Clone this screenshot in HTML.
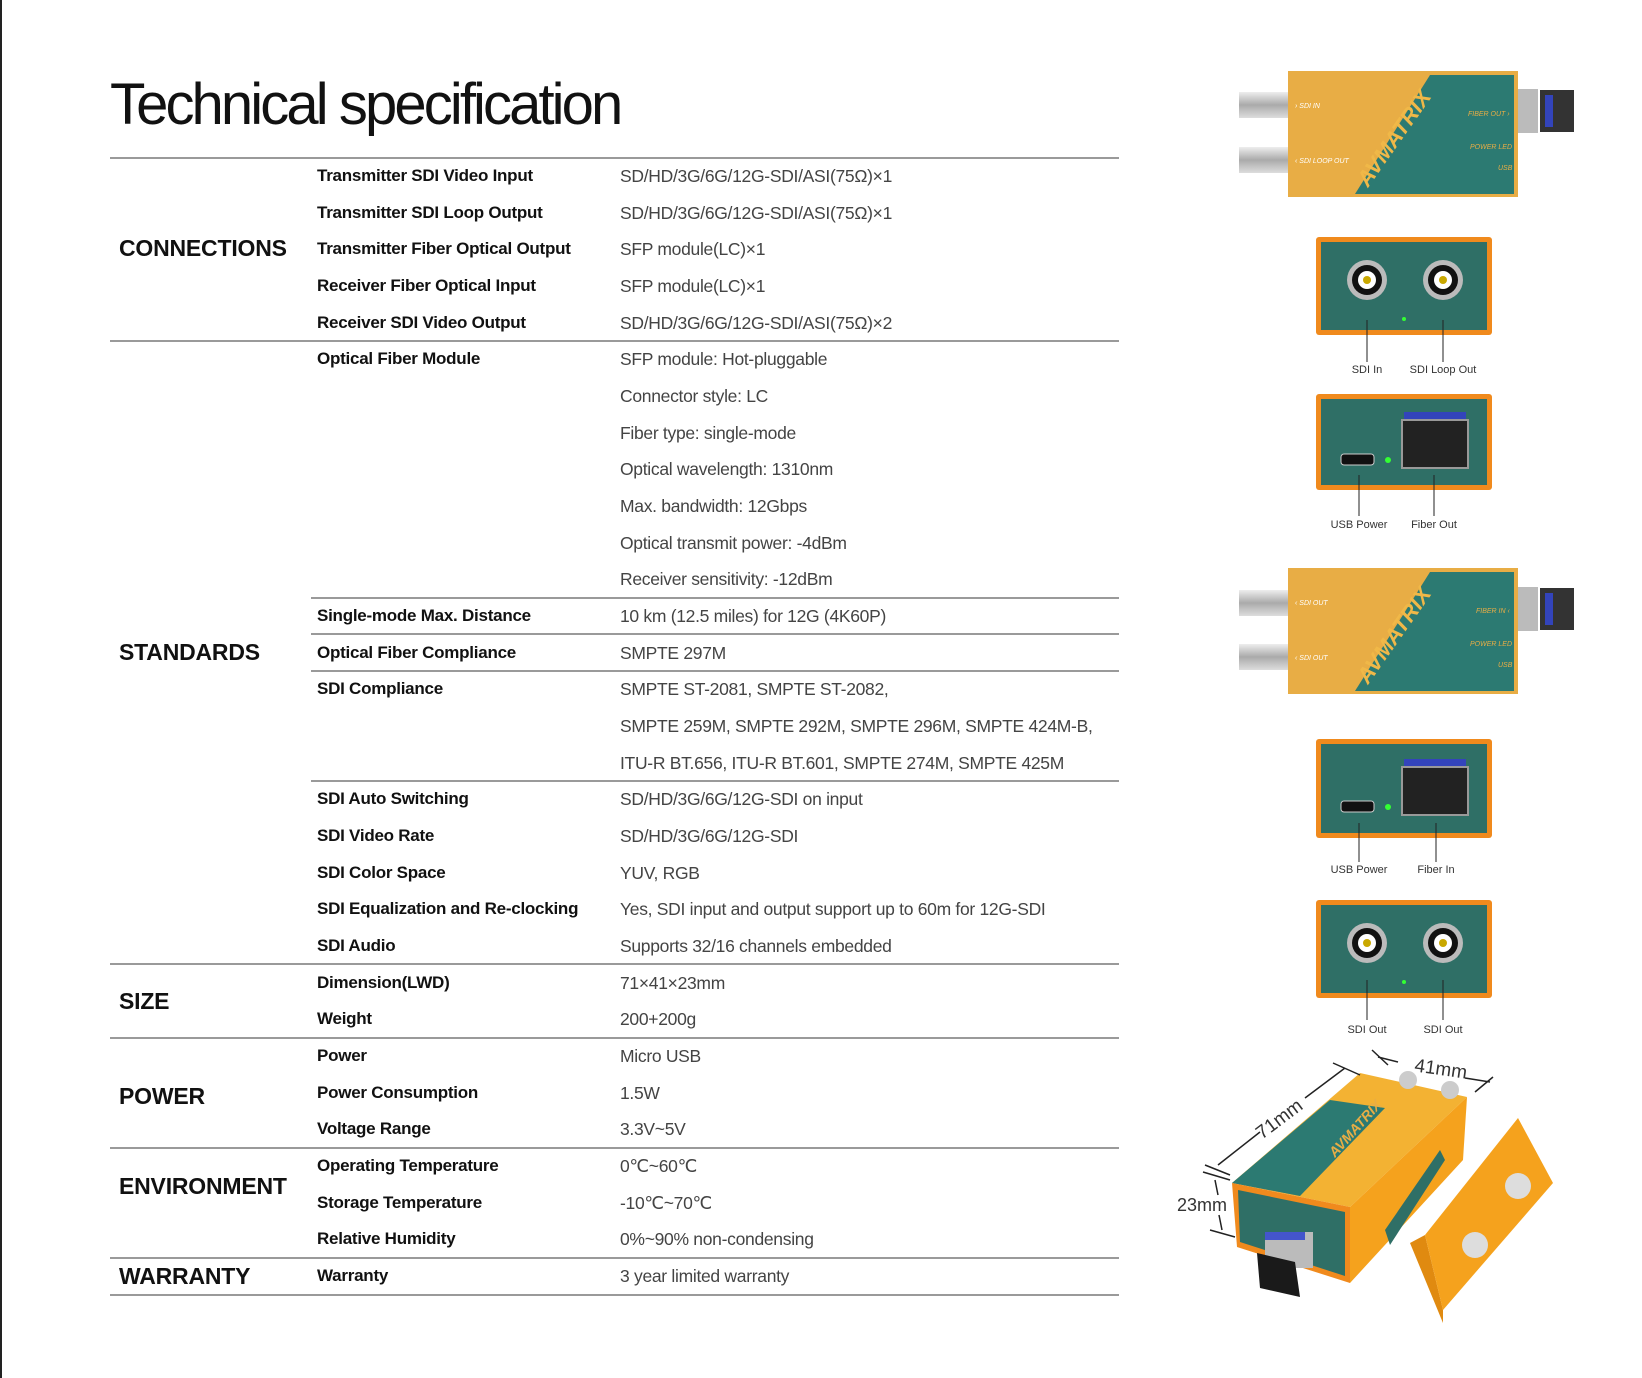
<!DOCTYPE html>
<html><head><meta charset="utf-8"><style>
html,body{margin:0;padding:0;background:#fff;}
body{width:1642px;height:1378px;position:relative;overflow:hidden;font-family:"Liberation Sans",Arial,sans-serif;}
.bl{position:absolute;left:0;top:0;width:2px;height:1378px;background:#222;}
.title{position:absolute;left:110px;top:70px;font-size:58px;font-weight:normal;color:#111;letter-spacing:-2.9px;white-space:nowrap;line-height:70px;}
.ln{position:absolute;height:2px;background:#9a9a9a;}
.p{position:absolute;left:317px;font-size:17px;font-weight:bold;color:#111;letter-spacing:-0.25px;line-height:36px;height:36px;white-space:nowrap;}
.v{position:absolute;left:620px;font-size:17.5px;color:#444;letter-spacing:-0.3px;line-height:36px;height:36px;white-space:nowrap;}
.s{position:absolute;left:119px;font-size:23px;font-weight:bold;color:#111;letter-spacing:-0.2px;line-height:30px;white-space:nowrap;}
svg{position:absolute;left:0;top:0;}
</style></head><body>
<div class="bl"></div>
<div class="title">Technical specification</div>

<div class="ln" style="left:110px;width:1009px;top:157px"></div>
<div class="ln" style="left:110px;width:1009px;top:340px"></div>
<div class="ln" style="left:311px;width:808px;top:597px"></div>
<div class="ln" style="left:311px;width:808px;top:633px"></div>
<div class="ln" style="left:311px;width:808px;top:670px"></div>
<div class="ln" style="left:311px;width:808px;top:780px"></div>
<div class="ln" style="left:110px;width:1009px;top:963px"></div>
<div class="ln" style="left:110px;width:1009px;top:1037px"></div>
<div class="ln" style="left:110px;width:1009px;top:1147px"></div>
<div class="ln" style="left:110px;width:1009px;top:1257px"></div>
<div class="ln" style="left:110px;width:1009px;top:1294px"></div>

<div class="s" style="top:233px">CONNECTIONS</div>
<div class="s" style="top:637px">STANDARDS</div>
<div class="s" style="top:986px">SIZE</div>
<div class="s" style="top:1081px">POWER</div>
<div class="s" style="top:1171px">ENVIRONMENT</div>
<div class="s" style="top:1261px">WARRANTY</div>

<div class="p" style="top:158px">Transmitter SDI Video Input</div><div class="v" style="top:158px">SD/HD/3G/6G/12G-SDI/ASI(75Ω)×1</div>
<div class="p" style="top:195px">Transmitter SDI Loop Output</div><div class="v" style="top:195px">SD/HD/3G/6G/12G-SDI/ASI(75Ω)×1</div>
<div class="p" style="top:231px">Transmitter Fiber Optical Output</div><div class="v" style="top:231px">SFP module(LC)×1</div>
<div class="p" style="top:268px">Receiver Fiber Optical Input</div><div class="v" style="top:268px">SFP module(LC)×1</div>
<div class="p" style="top:305px">Receiver SDI Video Output</div><div class="v" style="top:305px">SD/HD/3G/6G/12G-SDI/ASI(75Ω)×2</div>
<div class="p" style="top:341px">Optical Fiber Module</div><div class="v" style="top:341px">SFP module: Hot-pluggable</div>
<div class="v" style="top:378px">Connector style: LC</div>
<div class="v" style="top:415px">Fiber type: single-mode</div>
<div class="v" style="top:451px">Optical wavelength: 1310nm</div>
<div class="v" style="top:488px">Max. bandwidth: 12Gbps</div>
<div class="v" style="top:525px">Optical transmit power: -4dBm</div>
<div class="v" style="top:561px">Receiver sensitivity: -12dBm</div>
<div class="p" style="top:598px">Single-mode Max. Distance</div><div class="v" style="top:598px">10 km (12.5 miles) for 12G (4K60P)</div>
<div class="p" style="top:635px">Optical Fiber Compliance</div><div class="v" style="top:635px">SMPTE 297M</div>
<div class="p" style="top:671px">SDI Compliance</div><div class="v" style="top:671px">SMPTE ST-2081, SMPTE ST-2082,</div>
<div class="v" style="top:708px">SMPTE 259M, SMPTE 292M, SMPTE 296M, SMPTE 424M-B,</div>
<div class="v" style="top:745px">ITU-R BT.656, ITU-R BT.601, SMPTE 274M, SMPTE 425M</div>
<div class="p" style="top:781px">SDI Auto Switching</div><div class="v" style="top:781px">SD/HD/3G/6G/12G-SDI on input</div>
<div class="p" style="top:818px">SDI Video Rate</div><div class="v" style="top:818px">SD/HD/3G/6G/12G-SDI</div>
<div class="p" style="top:855px">SDI Color Space</div><div class="v" style="top:855px">YUV, RGB</div>
<div class="p" style="top:891px">SDI Equalization and Re-clocking</div><div class="v" style="top:891px">Yes, SDI input and output support up to 60m for 12G-SDI</div>
<div class="p" style="top:928px">SDI Audio</div><div class="v" style="top:928px">Supports 32/16 channels embedded</div>
<div class="p" style="top:965px">Dimension(LWD)</div><div class="v" style="top:965px">71×41×23mm</div>
<div class="p" style="top:1001px">Weight</div><div class="v" style="top:1001px">200+200g</div>
<div class="p" style="top:1038px">Power</div><div class="v" style="top:1038px">Micro USB</div>
<div class="p" style="top:1075px">Power Consumption</div><div class="v" style="top:1075px">1.5W</div>
<div class="p" style="top:1111px">Voltage Range</div><div class="v" style="top:1111px">3.3V~5V</div>
<div class="p" style="top:1148px">Operating Temperature</div><div class="v" style="top:1148px">0℃~60℃</div>
<div class="p" style="top:1185px">Storage Temperature</div><div class="v" style="top:1185px">-10℃~70℃</div>
<div class="p" style="top:1221px">Relative Humidity</div><div class="v" style="top:1221px">0%~90% non-condensing</div>
<div class="p" style="top:1258px">Warranty</div><div class="v" style="top:1258px">3 year limited warranty</div>

<svg width="1642" height="1378" viewBox="0 0 1642 1378" font-family="Liberation Sans, sans-serif">
<defs>
<linearGradient id="bnc" x1="0" y1="0" x2="0" y2="1"><stop offset="0" stop-color="#eee"/><stop offset="0.5" stop-color="#aaa"/><stop offset="1" stop-color="#ddd"/></linearGradient>
</defs>
<!-- TX device -->
<g>
<rect x="1239" y="92" width="50" height="26" fill="url(#bnc)"/>
<rect x="1239" y="147" width="50" height="26" fill="url(#bnc)"/>
<rect x="1518" y="89" width="20" height="44" fill="#bbb"/>
<rect x="1540" y="90" width="34" height="42" fill="#333"/>
<rect x="1545" y="95" width="8" height="32" fill="#3344bb"/>
<rect x="1288" y="71" width="230" height="126" fill="#e8ad45"/>
<polygon points="1355,194 1430,75 1514,75 1514,194" fill="#2c7a72"/>
<text x="0" y="0" transform="translate(1368,188) rotate(-55)" font-size="22" font-weight="bold" font-style="italic" fill="#f0b848">AVMATRIX</text>
<text x="1295" y="108" font-size="7" fill="#fff" font-style="italic">› SDI IN</text>
<text x="1295" y="163" font-size="7" fill="#fff" font-style="italic">‹ SDI LOOP OUT</text>
<text x="1468" y="116" font-size="7" fill="#e8ad45" font-style="italic">FIBER OUT ›</text>
<text x="1470" y="149" font-size="7" fill="#e8ad45" font-style="italic">POWER LED</text>
<text x="1498" y="170" font-size="7" fill="#e8ad45" font-style="italic">USB</text>
</g>
<!-- Panel1 -->
<g>
<rect x="1316" y="237" width="176" height="98" rx="3" fill="#f08a1d"/>
<rect x="1321" y="242" width="166" height="88" fill="#2f6f66"/>
<circle cx="1367" cy="280" r="20" fill="#bbb"/><circle cx="1367" cy="280" r="15" fill="#111"/><circle cx="1367" cy="280" r="9" fill="#fff"/><circle cx="1367" cy="280" r="4" fill="#c9a800"/>
<circle cx="1443" cy="280" r="20" fill="#bbb"/><circle cx="1443" cy="280" r="15" fill="#111"/><circle cx="1443" cy="280" r="9" fill="#fff"/><circle cx="1443" cy="280" r="4" fill="#c9a800"/>
<circle cx="1404" cy="319" r="2" fill="#3f3"/>
<line x1="1367" y1="320" x2="1367" y2="362" stroke="#222"/><line x1="1443" y1="320" x2="1443" y2="362" stroke="#222"/>
<text x="1367" y="373" font-size="11" text-anchor="middle" fill="#333">SDI In</text>
<text x="1443" y="373" font-size="11" text-anchor="middle" fill="#333">SDI Loop Out</text>
</g>
<!-- Panel2 -->
<g>
<rect x="1316" y="394" width="176" height="96" rx="3" fill="#f08a1d"/>
<rect x="1321" y="399" width="166" height="86" fill="#2f6f66"/>
<rect x="1341" y="454" width="33" height="11" rx="3" fill="#111" stroke="#ccc"/>
<circle cx="1388" cy="460" r="3" fill="#3f3"/>
<rect x="1404" y="412" width="62" height="12" fill="#3344bb"/>
<rect x="1402" y="420" width="66" height="48" fill="#222" stroke="#999" stroke-width="2"/>
<line x1="1359" y1="475" x2="1359" y2="516" stroke="#222"/><line x1="1434" y1="475" x2="1434" y2="516" stroke="#222"/>
<text x="1359" y="528" font-size="11" text-anchor="middle" fill="#333">USB Power</text>
<text x="1434" y="528" font-size="11" text-anchor="middle" fill="#333">Fiber Out</text>
</g>
<!-- RX device -->
<g>
<rect x="1239" y="590" width="50" height="26" fill="url(#bnc)"/>
<rect x="1239" y="644" width="50" height="26" fill="url(#bnc)"/>
<rect x="1518" y="587" width="20" height="44" fill="#bbb"/>
<rect x="1540" y="588" width="34" height="42" fill="#333"/>
<rect x="1545" y="593" width="8" height="32" fill="#3344bb"/>
<rect x="1288" y="568" width="230" height="126" fill="#e8ad45"/>
<polygon points="1355,691 1430,572 1514,572 1514,691" fill="#2c7a72"/>
<text x="0" y="0" transform="translate(1368,685) rotate(-55)" font-size="22" font-weight="bold" font-style="italic" fill="#f0b848">AVMATRIX</text>
<text x="1295" y="605" font-size="7" fill="#fff" font-style="italic">‹ SDI OUT</text>
<text x="1295" y="660" font-size="7" fill="#fff" font-style="italic">‹ SDI OUT</text>
<text x="1476" y="613" font-size="7" fill="#e8ad45" font-style="italic">FIBER IN ‹</text>
<text x="1470" y="646" font-size="7" fill="#e8ad45" font-style="italic">POWER LED</text>
<text x="1498" y="667" font-size="7" fill="#e8ad45" font-style="italic">USB</text>
</g>
<!-- Panel3 -->
<g>
<rect x="1316" y="739" width="176" height="99" rx="3" fill="#f08a1d"/>
<rect x="1321" y="744" width="166" height="89" fill="#2f6f66"/>
<rect x="1341" y="801" width="33" height="11" rx="3" fill="#111" stroke="#ccc"/>
<circle cx="1388" cy="807" r="3" fill="#3f3"/>
<rect x="1404" y="759" width="62" height="12" fill="#3344bb"/>
<rect x="1402" y="767" width="66" height="48" fill="#222" stroke="#999" stroke-width="2"/>
<line x1="1359" y1="823" x2="1359" y2="862" stroke="#222"/><line x1="1436" y1="823" x2="1436" y2="862" stroke="#222"/>
<text x="1359" y="873" font-size="11" text-anchor="middle" fill="#333">USB Power</text>
<text x="1436" y="873" font-size="11" text-anchor="middle" fill="#333">Fiber In</text>
</g>
<!-- Panel4 -->
<g>
<rect x="1316" y="900" width="176" height="98" rx="3" fill="#f08a1d"/>
<rect x="1321" y="905" width="166" height="88" fill="#2f6f66"/>
<circle cx="1367" cy="943" r="20" fill="#bbb"/><circle cx="1367" cy="943" r="15" fill="#111"/><circle cx="1367" cy="943" r="9" fill="#fff"/><circle cx="1367" cy="943" r="4" fill="#c9a800"/>
<circle cx="1443" cy="943" r="20" fill="#bbb"/><circle cx="1443" cy="943" r="15" fill="#111"/><circle cx="1443" cy="943" r="9" fill="#fff"/><circle cx="1443" cy="943" r="4" fill="#c9a800"/>
<circle cx="1404" cy="982" r="2" fill="#3f3"/>
<line x1="1367" y1="980" x2="1367" y2="1020" stroke="#222"/><line x1="1443" y1="980" x2="1443" y2="1020" stroke="#222"/>
<text x="1367" y="1033" font-size="11" text-anchor="middle" fill="#333">SDI Out</text>
<text x="1443" y="1033" font-size="11" text-anchor="middle" fill="#333">SDI Out</text>
</g>
<!-- Isometric device -->
<g>
<polygon points="1410,1243 1425,1235 1443,1310 1443,1323" fill="#e08a10"/>
<polygon points="1425,1235 1518,1118 1553,1183 1443,1310" fill="#f5a21d"/>
<circle cx="1518" cy="1186" r="13" fill="#ddd"/><circle cx="1475" cy="1245" r="13" fill="#ddd"/>
<polygon points="1232,1183 1360,1073 1467,1097 1350,1207" fill="#f3b233"/>
<polygon points="1232,1183 1330,1100 1385,1108 1300,1196" fill="#2c7a72"/>
<polygon points="1232,1183 1350,1207 1350,1283 1237,1247" fill="#f08a1d"/>
<polygon points="1238,1190 1345,1212 1345,1276 1240,1242" fill="#2f6f66"/>
<polygon points="1350,1207 1467,1097 1463,1160 1350,1283" fill="#f5a21d"/>
<polygon points="1385,1230 1440,1150 1445,1160 1390,1245" fill="#2f6f66"/>
<circle cx="1408" cy="1080" r="9" fill="#ccc"/><circle cx="1450" cy="1090" r="9" fill="#ccc"/>
<rect x="1265" y="1232" width="48" height="36" fill="#bbb"/>
<rect x="1265" y="1232" width="40" height="8" fill="#4455cc"/>
<polygon points="1257,1253 1295,1262 1300,1297 1260,1288" fill="#1a1a1a"/>
<text x="0" y="0" transform="translate(1335,1158) rotate(-48)" font-size="14" font-weight="bold" font-style="italic" fill="#e8ad45">AVMATRIX</text>
</g>
<g stroke="#222" stroke-width="1.5" fill="none">
<line x1="1218" y1="1165" x2="1260" y2="1132"/><line x1="1305" y1="1098" x2="1345" y2="1068"/>
<line x1="1205" y1="1165" x2="1230" y2="1175"/><line x1="1333" y1="1063" x2="1360" y2="1075"/>
<line x1="1378" y1="1057" x2="1398" y2="1062"/><line x1="1465" y1="1078" x2="1490" y2="1082"/>
<line x1="1372" y1="1050" x2="1388" y2="1065"/><line x1="1475" y1="1092" x2="1493" y2="1077"/>
<line x1="1215" y1="1180" x2="1218" y2="1195"/><line x1="1219" y1="1215" x2="1222" y2="1230"/>
<line x1="1203" y1="1172" x2="1230" y2="1180"/><line x1="1210" y1="1230" x2="1235" y2="1237"/>
</g>
<text x="1440" y="1075" font-size="19" fill="#333" text-anchor="middle" transform="rotate(8 1440 1075)">41mm</text>
<text x="1283" y="1124" font-size="19" fill="#333" text-anchor="middle" transform="rotate(-37 1283 1124)">71mm</text>
<text x="1202" y="1211" font-size="18" fill="#333" text-anchor="middle">23mm</text>
</svg>
</body></html>
